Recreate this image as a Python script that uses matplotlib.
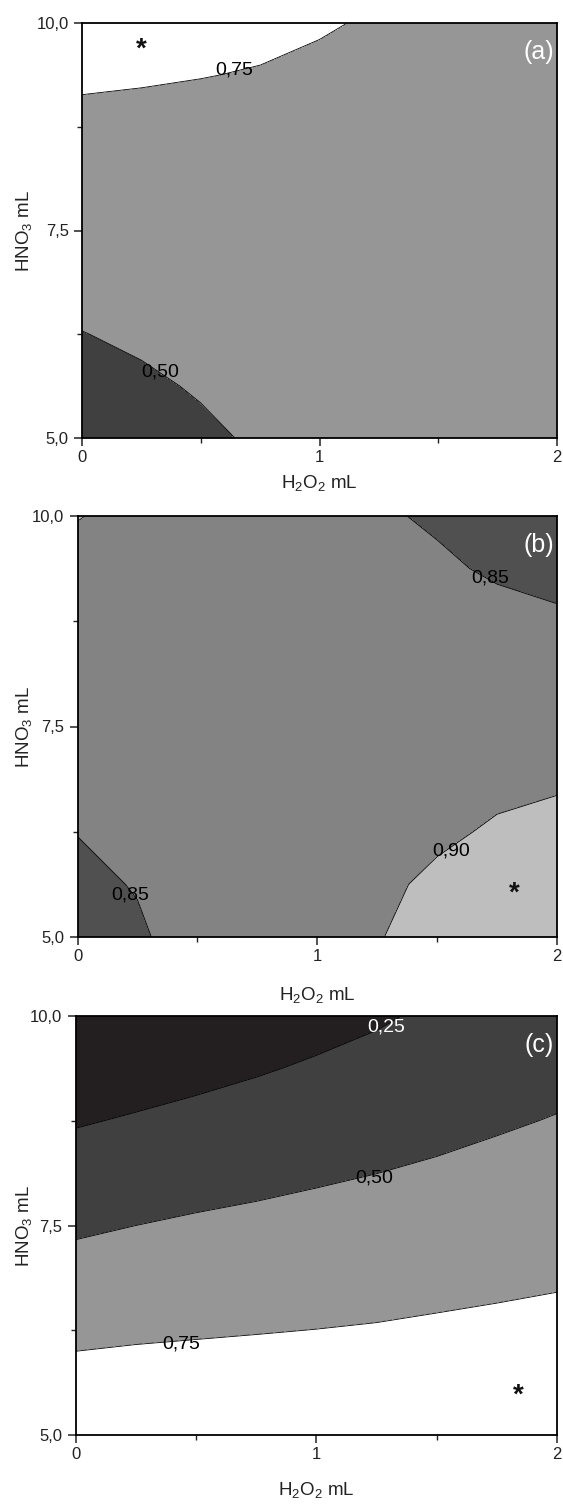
import numpy as np
import matplotlib
matplotlib.use("Agg")
import matplotlib.pyplot as plt
from matplotlib.ticker import FixedLocator, FixedFormatter

plt.rcParams['font.family'] = ['Liberation Sans', 'DejaVu Sans']
plt.rcParams['mathtext.fontset'] = 'custom'
plt.rcParams['mathtext.rm'] = 'Liberation Sans'
plt.rcParams['mathtext.it'] = 'Liberation Sans:italic'

# ---- data (grid values read from the response surfaces) ----
h2o2_ml = [0.0, 0.25, 0.5, 0.75, 1.0, 1.25, 1.5, 1.75, 2.0]
hno3_ml = [5.0, 5.625, 6.25, 6.875, 7.5, 8.125, 8.75, 9.375, 10.0]

# panel (a): each inner list is one h2o2 column, values follow hno3_ml
z_a_cols = [
    [0.387, 0.442, 0.4965, 0.551, 0.606, 0.661, 0.716, 0.771, 0.825],
    [0.428, 0.476, 0.524, 0.571, 0.619, 0.667, 0.714, 0.762, 0.809],
    [0.473, 0.513, 0.553, 0.593, 0.633, 0.673, 0.713, 0.753, 0.793],
    [0.520, 0.552, 0.584, 0.616, 0.648, 0.680, 0.712, 0.744, 0.776],
    [0.560, 0.585, 0.610, 0.635, 0.660, 0.685, 0.710, 0.735, 0.757],
    [0.590, 0.610, 0.630, 0.650, 0.670, 0.690, 0.710, 0.725, 0.742],
    [0.610, 0.625, 0.640, 0.655, 0.670, 0.685, 0.700, 0.715, 0.730],
    [0.620, 0.635, 0.650, 0.660, 0.670, 0.680, 0.690, 0.700, 0.715],
    [0.630, 0.640, 0.650, 0.660, 0.670, 0.675, 0.680, 0.690, 0.700],
]
levels_a = [0.0, 0.50, 0.75, 1.0]
colors_a = ['#404040', '#969696', '#ffffff']

# panel (b)
z_b_cols = [
    [0.830, 0.840, 0.851, 0.862, 0.870, 0.877, 0.884, 0.891, 0.901],
    [0.844, 0.8525, 0.862, 0.868, 0.873, 0.878, 0.882, 0.886, 0.893],
    [0.870, 0.872, 0.874, 0.876, 0.877, 0.878, 0.879, 0.880, 0.882],
    [0.880, 0.879, 0.878, 0.878, 0.878, 0.877, 0.876, 0.874, 0.872],
    [0.888, 0.885, 0.882, 0.880, 0.878, 0.876, 0.872, 0.867, 0.862],
    [0.897, 0.889, 0.887, 0.883, 0.879, 0.875, 0.868, 0.862, 0.855],
    [0.922, 0.910, 0.891, 0.884, 0.879, 0.874, 0.867, 0.856, 0.845],
    [0.935, 0.925, 0.906, 0.888, 0.880, 0.872, 0.862, 0.845, 0.830],
    [0.945, 0.935, 0.918, 0.892, 0.880, 0.868, 0.856, 0.838, 0.815],
]
levels_b = [0.80, 0.85, 0.90, 1.0]
colors_b = ['#505050', '#838383', '#bebebe']

# panel (c)
z_c_cols = [
    [0.938, 0.820, 0.703, 0.586, 0.468, 0.351, 0.233, 0.116, -0.002],
    [0.940, 0.830, 0.720, 0.610, 0.500, 0.384, 0.269, 0.153, 0.037],
    [0.937, 0.834, 0.732, 0.629, 0.527, 0.416, 0.304, 0.192, 0.079],
    [0.937, 0.840, 0.742, 0.645, 0.547, 0.445, 0.339, 0.232, 0.126],
    [0.940, 0.846, 0.752, 0.657, 0.563, 0.475, 0.371, 0.274, 0.177],
    [0.940, 0.852, 0.763, 0.674, 0.585, 0.499, 0.406, 0.316, 0.225],
    [0.948, 0.864, 0.777, 0.695, 0.611, 0.527, 0.442, 0.358, 0.285],
    [0.950, 0.872, 0.793, 0.710, 0.635, 0.557, 0.477, 0.399, 0.320],
    [0.949, 0.876, 0.803, 0.730, 0.656, 0.583, 0.510, 0.437, 0.364],
]
levels_c = [-0.1, 0.25, 0.50, 0.75, 1.0]
colors_c = ['#231f20', '#404040', '#969696', '#ffffff']

x_ticks = [0, 1, 2]
x_tick_labels = ['0', '1', '2']
y_ticks = [5.0, 7.5, 10.0]
y_tick_labels = ['5,0', '7,5', '10,0']

# label annotations: (level, x, y, colour)
labels_a = [(0.75, 0.64, 9.43, 'k'), (0.50, 0.33, 5.80, 'k')]
labels_b = [(0.85, 1.72, 9.26, 'k'), (0.85, 0.22, 5.50, 'k'), (0.90, 1.56, 6.02, 'k')]
labels_c = [(0.25, 1.29, 9.87, 'w'), (0.50, 1.24, 8.07, 'k'), (0.75, 0.44, 6.08, 'k')]
stars = {'a': (0.25, 9.68), 'b': (1.82, 5.52), 'c': (1.84, 5.47)}

# ---- figure ----
W, H = 563, 1506
fig = plt.figure(figsize=(W / 100, H / 100), dpi=100)


def px_axes(left, top, right, bottom):
    return fig.add_axes([left / W, 1 - bottom / H, (right - left) / W, (bottom - top) / H])


panels = [
    ('a', px_axes(82, 23, 557, 438), z_a_cols, levels_a, colors_a, labels_a, 35),
    ('b', px_axes(77.5, 516, 557, 937), z_b_cols, levels_b, colors_b, labels_b, 48),
    ('c', px_axes(75.5, 1016, 557, 1435), z_c_cols, levels_c, colors_c, labels_c, 45),
]

X, Y = np.meshgrid(h2o2_ml, hno3_ml)
for tag, ax, zcols, lev, cols, labs, xlab_off in panels:
    Z = np.array(zcols).T
    ax.contourf(X, Y, Z, levels=lev, colors=cols)
    ax.contour(X, Y, Z, levels=lev[1:-1], colors='k', linewidths=0.6)
    ax.set_xlim(0, 2)
    ax.set_ylim(5, 10)
    for s in ax.spines.values():
        s.set_linewidth(1.3)
        s.set_zorder(5)
    ax.xaxis.set_major_locator(FixedLocator(x_ticks))
    ax.xaxis.set_major_formatter(FixedFormatter(x_tick_labels))
    ax.xaxis.set_minor_locator(FixedLocator([0.5, 1.5]))
    ax.yaxis.set_major_locator(FixedLocator(y_ticks))
    ax.yaxis.set_major_formatter(FixedFormatter(y_tick_labels))
    ax.yaxis.set_minor_locator(FixedLocator([6.25, 8.75]))
    ax.tick_params(which='major', direction='out', length=6, width=1.1,
                   labelsize=12, pad=2.5, colors='#222222')
    ax.tick_params(which='minor', direction='out', length=3.5, width=1.0, colors='#222222')
    ax.tick_params(axis='y', which='major', pad=3.5)
    ax.set_xlabel(r'H$_2$O$_2$ mL', fontsize=13.5, color='#222222')
    ax.set_ylabel(r'HNO$_3$ mL', fontsize=13.5, color='#222222')
    bb = ax.get_position()
    hpx = bb.height * H
    wpx = bb.width * W
    ax.xaxis.set_label_coords(0.5, -xlab_off / hpx)
    ax.yaxis.set_label_coords(-(bb.x0 * W - 34) / wpx, 0.5)
    for lev_v, lx, ly, lc in labs:
        ax.text(lx, ly, f'{lev_v:.2f}'.replace('.', ','), fontsize=14, color=lc,
                ha='center', va='center', zorder=6)
    sx, sy = stars[tag]
    ax.text(sx, sy, '*', fontsize=20, fontweight='bold', ha='center', va='center',
            color='#111111', zorder=6)
    ax.text(0.962, 0.93, f'({tag})', transform=ax.transAxes, fontsize=18,
            color='white', ha='center', va='center', zorder=6)

fig.savefig('out.png', dpi=100)
